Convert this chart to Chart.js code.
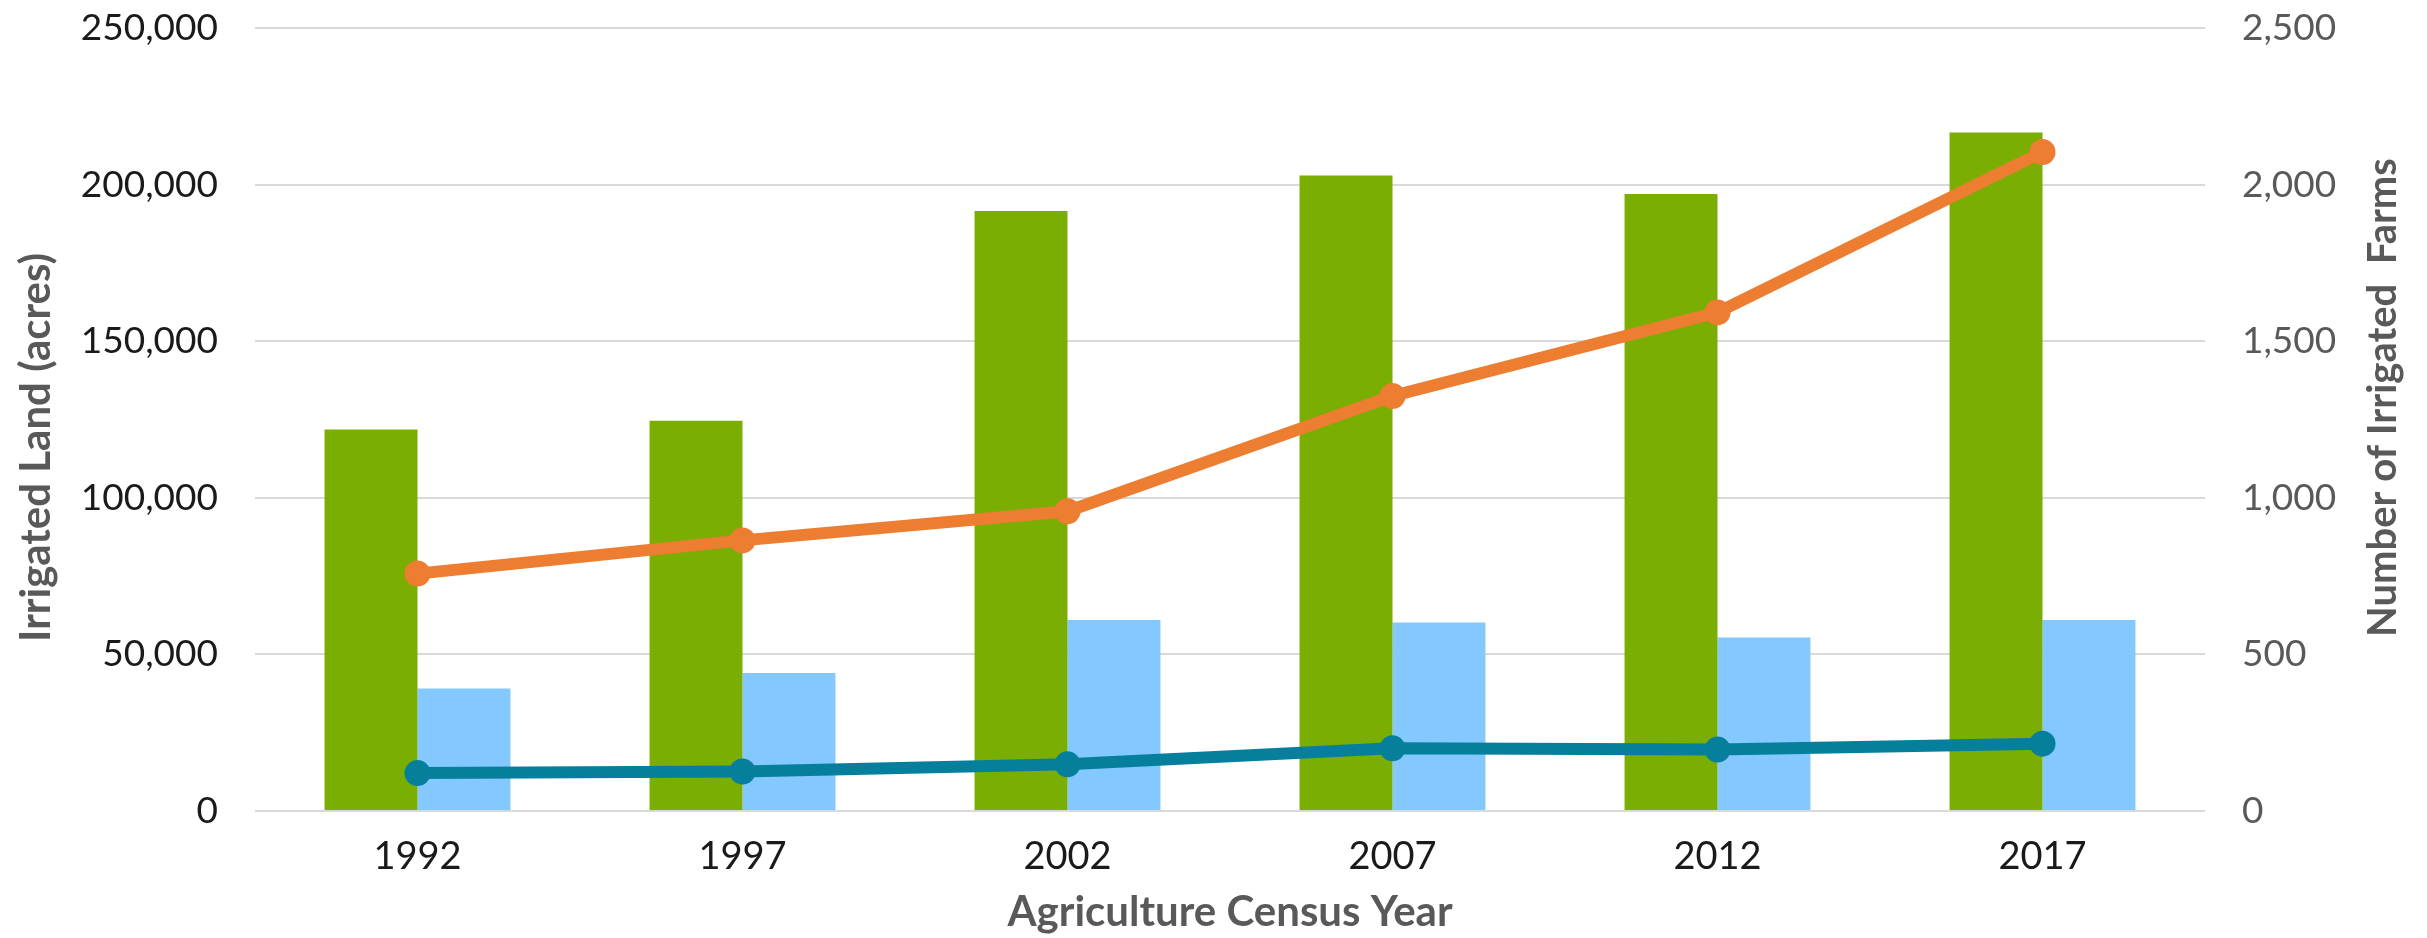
<!DOCTYPE html>
<html>
<head>
<meta charset="utf-8">
<title>Irrigated land and farms by census year</title>
<script src="https://cdn.jsdelivr.net/npm/chart.js@4/dist/chart.umd.min.js"></script>
<style>
    html, body { margin: 0; padding: 0; background: #fff; }
    #wrap { position: relative; width: 2427px; height: 938px; }
</style>
</head>
<body>
<div id="wrap"><canvas id="irrigationChart"></canvas></div>
<script>
const years = ['1992', '1997', '2002', '2007', '2012', '2017'];

// acres, left axis
const landTotal = [121800, 124600, 191600, 202900, 197000, 216600];
const landSmall = [39100, 44100, 61000, 60200, 55400, 61000];

// farms, right axis
const farmsTotal = [758, 864, 957, 1325, 1592, 2104];
const farmsSmall = [121, 126, 149, 200, 196, 215];

const leftTicks = [0, 50000, 100000, 150000, 200000, 250000];
const rightTicks = [0, 500, 1000, 1500, 2000, 2500];

const FONT = 'Lato, "Open Sans", sans-serif';

// y titles drawn by hand: the right one reads bottom-to-top in the original
const sideTitles = {
    id: 'sideTitles',
    afterDraw(chart) {
        const c = chart.ctx;
        const area = chart.chartArea;
        const mid = (area.top + area.bottom) / 2;
        c.save();
        c.fillStyle = '#595959';
        c.textAlign = 'center';
        c.textBaseline = 'middle';

        c.font = 'bold 42px ' + FONT;
        c.translate(chart.scales.y.left + 36, mid + 28);
        c.rotate(-Math.PI / 2);
        c.fillText('Irrigated Land (acres)', 0, 0);
        c.setTransform(1, 0, 0, 1, 0, 0);

        c.font = 'bold 40px ' + FONT;
        c.translate(chart.scales.y1.right - 44, mid - 22);
        c.rotate(-Math.PI / 2);
        c.fillText('Number of Irrigated  Farms', 0, 0);
        c.restore();
    },
};

// fixed box sizes, and no extra top/bottom room from tick padding
const fitBox = (w) => (scale) => {
    scale.width = w;
    scale.paddingTop = 0;
    scale.paddingBottom = 0;
};

new Chart(document.getElementById('irrigationChart'), {
    type: 'bar',
    data: {
        labels: years,
        datasets: [
            {
                type: 'line',
                label: 'Irrigated farms',
                data: farmsTotal,
                yAxisID: 'y1',
                borderColor: '#ed7d31',
                backgroundColor: '#ed7d31',
                borderWidth: 12,
                pointRadius: 13,
                pointHoverRadius: 13,
                pointBorderWidth: 0,
                tension: 0,
                order: 0,
            },
            {
                type: 'line',
                label: 'Irrigated farms (small)',
                data: farmsSmall,
                yAxisID: 'y1',
                borderColor: '#067f9c',
                backgroundColor: '#067f9c',
                borderWidth: 12,
                pointRadius: 13,
                pointHoverRadius: 13,
                pointBorderWidth: 0,
                tension: 0,
                order: 0,
            },
            {
                label: 'Irrigated land',
                data: landTotal,
                yAxisID: 'y',
                backgroundColor: '#7aae03',
                order: 1,
            },
            {
                label: 'Irrigated land (small)',
                data: landSmall,
                yAxisID: 'y',
                backgroundColor: '#83c8fe',
                order: 1,
            },
        ],
    },
    options: {
        responsive: true,
        maintainAspectRatio: false,
        animation: false,
        layout: { autoPadding: false, padding: { top: 28, left: 0, right: 0, bottom: 0 } },
        datasets: {
            bar: { categoryPercentage: 0.572, barPercentage: 1.0 },
        },
        plugins: {
            legend: { display: false },
            tooltip: { enabled: false },
        },
        scales: {
            x: {
                grid: { display: false },
                border: { display: false },
                ticks: {
                    color: '#1a1a1a',
                    font: { family: FONT, size: 38 },
                    padding: 15,
                },
                title: {
                    display: true,
                    text: 'Agriculture Census Year',
                    color: '#595959',
                    font: { family: FONT, size: 42, weight: 'bold' },
                    padding: { top: 0, bottom: 0 },
                },
                afterFit: (scale) => { scale.height = 127; },
            },
            y: {
                position: 'left',
                min: 0,
                max: 250000,
                afterBuildTicks: (scale) => { scale.ticks = leftTicks.map((v) => ({ value: v })); },
                grid: { color: '#d9d9d9', lineWidth: 2, drawTicks: false },
                border: { display: false },
                ticks: {
                    color: '#1a1a1a',
                    font: { family: FONT, size: 37 },
                    padding: 37,
                    callback: (v) => v.toLocaleString('en-US'),
                },
                afterFit: fitBox(255),
            },
            y1: {
                position: 'right',
                min: 0,
                max: 2500,
                afterBuildTicks: (scale) => { scale.ticks = rightTicks.map((v) => ({ value: v })); },
                grid: { display: false, drawTicks: false },
                border: { display: false },
                ticks: {
                    color: '#595959',
                    font: { family: FONT, size: 37 },
                    padding: 37,
                    callback: (v) => v.toLocaleString('en-US'),
                },
                afterFit: fitBox(222),
            },
        },
    },
    plugins: [sideTitles],
});
</script>
</body>
</html>
